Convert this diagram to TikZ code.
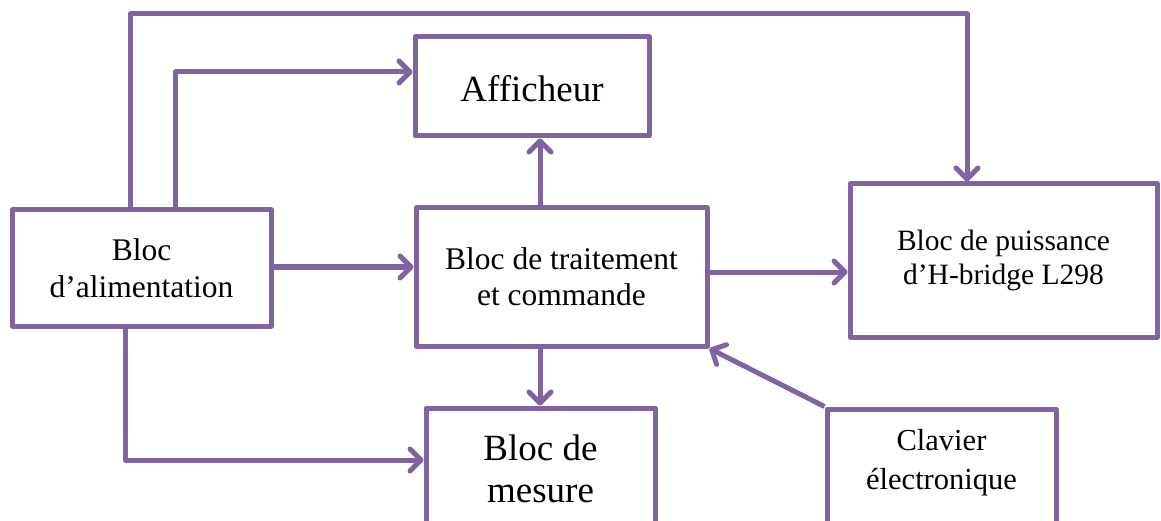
\documentclass[tikz,border=0pt]{standalone}
\usepackage{fontspec}
\setmainfont{Liberation Serif}
\usetikzlibrary{arrows.meta,calc}
\definecolor{vio}{HTML}{8064A2}
\begin{document}
\begin{tikzpicture}[x=1pt,y=-1pt,
  box/.style={draw=vio,line width=5pt,line join=round,fill=white,inner sep=0pt,align=center,text=black},
  txt/.style={inner sep=0pt,align=center,text=black},
  arr/.style={draw=vio,line width=5pt,line join=round,-{Straight Barb[length=11pt,width=22pt,line cap=round,line join=round]}}]
\useasboundingbox (0,0) rectangle (1161,521);
\node[box,minimum width=259pt,minimum height=116pt,font=\fontsize{31.5}{37}\selectfont] (alim) at (141.5,268) {Bloc\\d’alimentation};
\node[box,minimum width=234pt,minimum height=99pt,font=\fontsize{37}{40}\selectfont] (aff) at (532,86.5) {};
\node[txt,font=\fontsize{37}{40}\selectfont] (afft) at (532,89) {Afficheur};
\node[box,minimum width=291pt,minimum height=138pt,font=\fontsize{31.5}{36}\selectfont] (trt) at (561.5,277) {Bloc de traitement\\et commande};
\node[box,minimum width=307pt,minimum height=153pt,font=\fontsize{29.5}{34}\selectfont] (pui) at (1003.5,260.5) {Bloc de puissance\\d’H-bridge L298};
\node[box,minimum width=229pt,minimum height=122pt,font=\fontsize{37}{42}\selectfont] (mes) at (540.5,469) {Bloc de\\mesure};
\node[box,minimum width=229pt,minimum height=140pt] (clav) at (941.5,479) {};
\node[txt,font=\fontsize{30.5}{39}\selectfont] (clavt) at (941.5,463) {Clavier\\électronique};
% connectors
\coordinate (t1) at ($(alim.north west)+(121,0)$);
\coordinate (t2) at ($(alim.north west)+(166,0)$);
\coordinate (b1) at ($(alim.south west)+(116,0)$);
\draw[arr] (t1) -- (t1 |- 0,14) -| (pui.north -| 967,0);
\draw[arr] (t2) |- (aff.west |- 0,72);
\draw[arr] (alim.east |- 0,267) -- (trt.west |- 0,267);
\draw[arr] (trt.north -| 540,0) -- (aff.south -| 540,0);
\draw[arr] (trt.east |- 0,272) -- (pui.west |- 0,272);
\draw[arr] (trt.south -| 540,0) -- (mes.north -| 540,0);
\draw[arr] (b1) |- (mes.west |- 0,460);
\draw[arr] (clav.north west) -- (trt.south east);
\end{tikzpicture}
\end{document}
